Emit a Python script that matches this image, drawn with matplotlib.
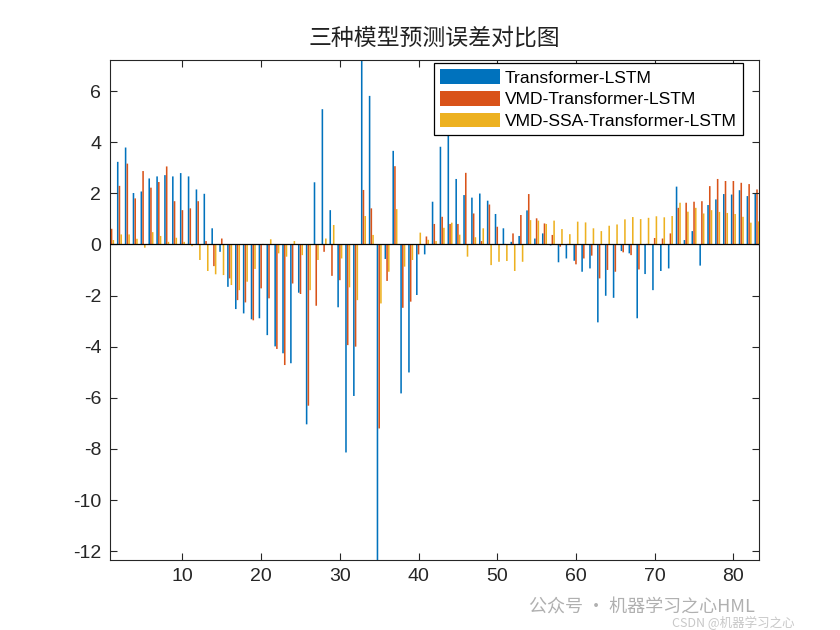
import numpy as np
import matplotlib
matplotlib.use("Agg")
import matplotlib.pyplot as plt

plt.rcParams['font.family'] = ['Liberation Sans', 'DejaVu Sans']
plt.rcParams['axes.unicode_minus'] = False

# prediction errors of the three models, sample 1..83
tf_lstm = [-0.10, 3.23, 3.79, 2.01, 2.07, 2.58, 2.66, 2.71, 2.66, 2.79,
           2.66, 2.15, 1.98, 0.63, -0.29, -1.66, -2.53, -2.70, -2.93, -2.89,
           -3.55, -3.99, -4.26, -4.65, -1.89, -7.04, 2.43, 5.29, 1.34, -2.46,
           -8.14, -5.93, 7.50, 5.81, -12.60, -0.57, 3.66, -5.83, -5.01, -1.98,
           -0.39, 1.67, 3.82, 4.50, 2.56, 1.93, 1.83, 1.99, 1.71, 1.19,
           0.63, 0.10, 0.33, 1.33, 0.23, 0.43, -0.04, -0.70, -0.55, -0.64,
           -1.07, -0.94, -3.05, -2.01, -2.09, -0.26, -0.35, -2.89, -1.16, -1.79,
           -1.04, -0.94, 2.26, 0.17, 0.52, -0.83, 1.54, 1.76, 1.97, 1.95,
           2.12, 1.89, 1.99]
vmd_tf_lstm = [0.61, 2.29, 3.16, 1.80, 2.87, 2.22, 2.44, 3.05, 1.69, 1.34,
               1.41, 1.69, 0.13, -0.85, 0.23, -1.33, -2.18, -2.27, -2.97, -1.72,
               -2.11, -4.09, -4.72, -1.53, -1.94, -6.31, -2.40, -0.29, -1.23, -1.40,
               -3.94, -4.00, 2.13, 1.41, -7.20, -1.43, 3.06, -2.48, -2.24, -0.39,
               0.31, 0.80, 1.08, 0.80, 0.80, 2.80, 1.21, 0.13, 1.56, 0.69,
               0.02, 0.43, 1.15, 1.97, 1.02, 0.82, 0.37, -0.09, 0.02, -0.78,
               -0.55, -0.44, -1.33, -1.00, -1.07, -0.31, -0.42, -0.98, 0.02, 0.25,
               0.23, 0.43, 1.43, 1.63, 1.67, 1.69, 2.28, 2.56, 2.48, 2.48,
               2.41, 2.36, 2.15]
vmd_ssa_tf_lstm = [0.17, 0.39, 0.39, 0.22, -0.13, 0.48, 0.33, 0.10, 0.26, 0.10,
                   -0.07, -0.61, -1.04, -1.17, -1.20, -1.59, -1.79, -1.46, -0.96, 0.02,
                   0.20, -0.35, -0.48, 0.13, -0.42, -1.79, -0.61, 0.23, 0.76, -0.55,
                   -1.68, -2.18, 1.11, 0.37, -2.31, -1.07, 1.38, -0.87, -0.61, 0.46,
                   0.18, 0.13, 0.65, 0.85, 0.38, -0.48, 0.28, 0.63, -0.81, -0.68,
                   -0.65, -1.04, -0.68, 0.95, 0.93, 0.80, 0.93, 0.60, 0.40, 0.89,
                   0.86, 0.63, 0.52, 0.73, 0.78, 0.98, 1.07, 0.99, 1.04, 1.10,
                   1.06, 1.11, 1.63, 1.28, 1.43, 1.21, 1.34, 1.27, 1.23, 1.19,
                   1.08, 0.85, 0.90]
names = ['Transformer-LSTM', 'VMD-Transformer-LSTM', 'VMD-SSA-Transformer-LSTM']
colors = ['#0072BD', '#D95319', '#EDB120']

n = len(tf_lstm)
x = np.arange(1, n + 1)
series = [tf_lstm, vmd_tf_lstm, vmd_ssa_tf_lstm]
offs = [-0.22, 0.0, 0.22]
w = 0.2

ink = '#262626'
fig = plt.figure(figsize=(8.4, 6.3), dpi=100)
ax = fig.add_axes([0.1306, 0.111, 0.7734, 0.794])

for s, o, c, nm in zip(series, offs, colors, names):
    bars = ax.bar(x + o, s, width=w, color=c, edgecolor='none', label=nm)
    for b in bars:
        b.set_snap(False)
ax.axhline(0, color='black', lw=0.9, zorder=3)

ax.set_xlim(0.76, 83.3)
ax.set_ylim(-12.35, 7.22)
ax.set_xticks(np.arange(10, 81, 10))
ax.set_yticks(np.arange(-12, 7, 2))
ax.tick_params(direction='in', top=True, right=True, length=5, width=0.8,
               labelsize=14, colors=ink, pad=6)
for sp in ax.spines.values():
    sp.set_color(ink)
    sp.set_linewidth(0.8)

ax.set_title('三种模型预测误差对比图', fontsize=16.5, pad=11, color='#222222',
             family=['Noto Sans CJK SC', 'DejaVu Sans'])

leg = ax.legend(loc='upper right', bbox_to_anchor=(0.975, 0.993), fontsize=12.6,
                handlelength=3.4, handleheight=0.9, handletextpad=0.3,
                labelspacing=0.3, borderpad=0.35, borderaxespad=0,
                fancybox=False, framealpha=1, edgecolor='black')
leg.get_frame().set_linewidth(0.9)

fig.text(0.63, 0.028, '公众号 · 机器学习之心HML', fontsize=13, color='#b0b0b0',
         family=['Noto Sans CJK SC', 'DejaVu Sans'])
fig.text(0.80, 0.004, 'CSDN @机器学习之心', fontsize=9, color='#c8c8c8',
         family=['Noto Sans CJK SC', 'DejaVu Sans'])

fig.savefig('out.png', dpi=100)
